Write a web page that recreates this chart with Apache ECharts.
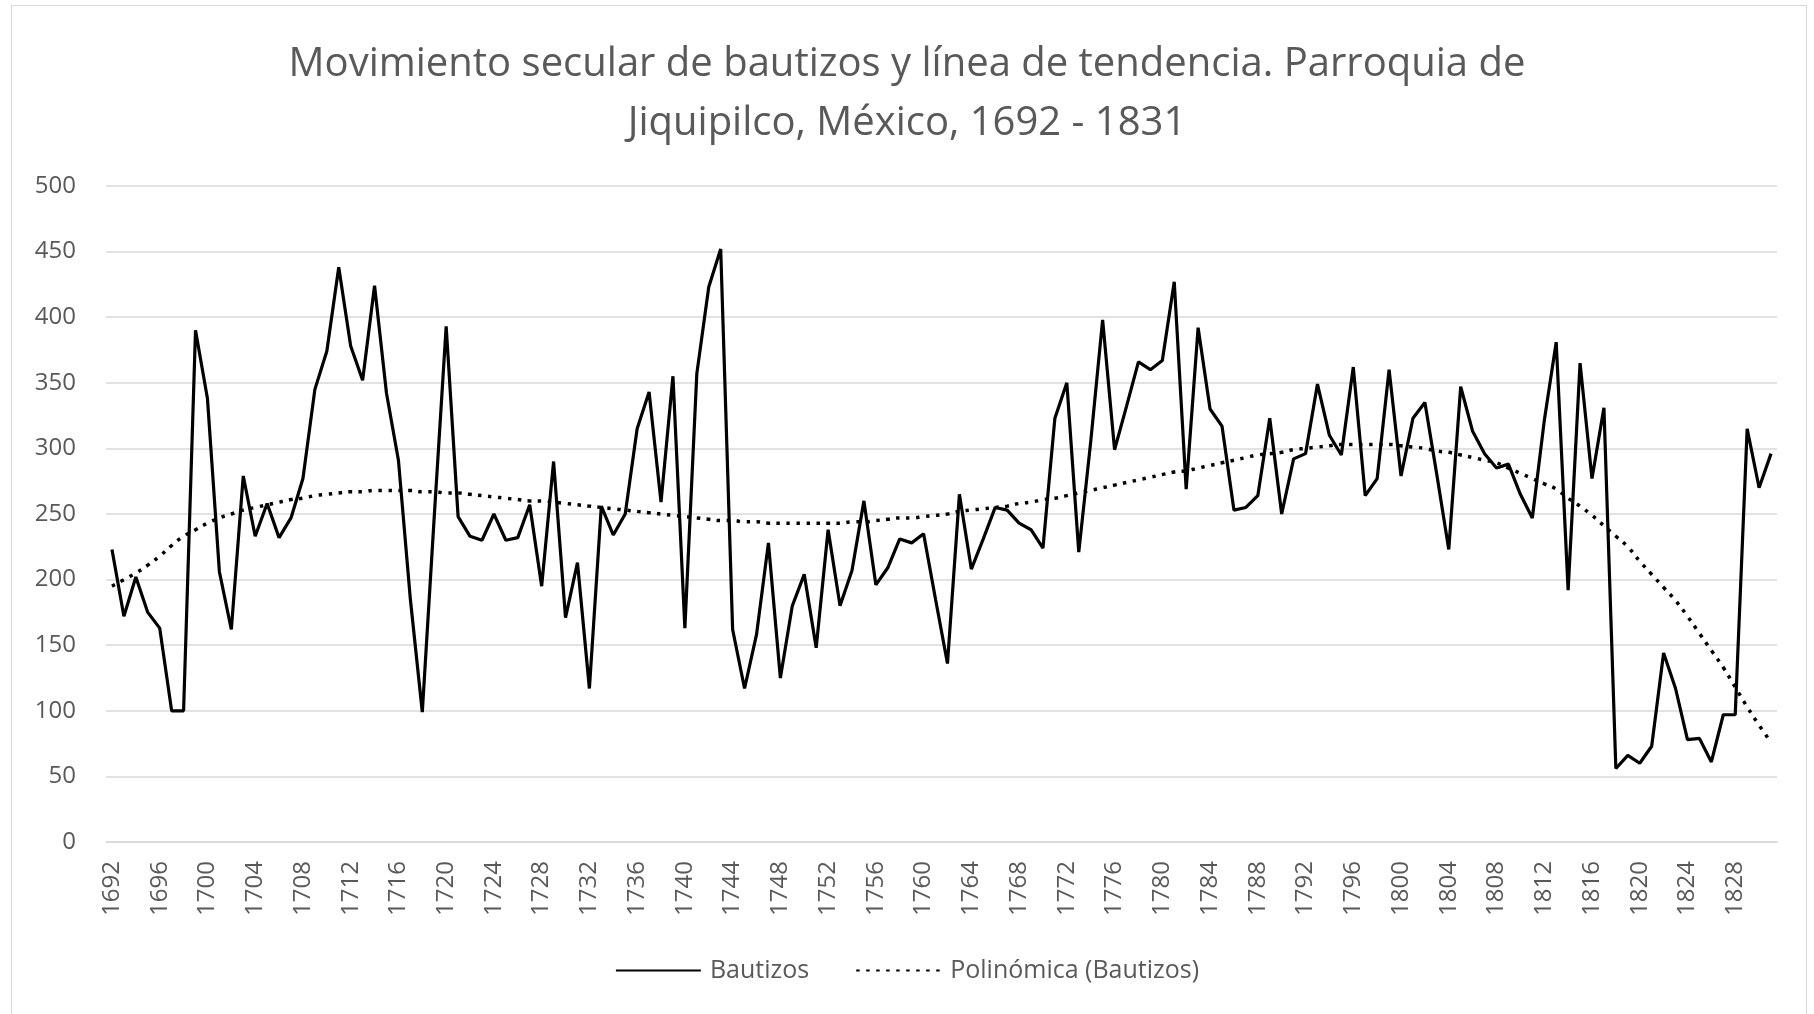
<!DOCTYPE html>
<html>
<head>
<meta charset="utf-8">
<script src="https://cdn.jsdelivr.net/npm/echarts@6/dist/echarts.min.js"></script>
<style>
  html, body { margin: 0; padding: 0; background: #fff; }
  #frame { position: absolute; left: 11px; top: 5px; width: 1796px; height: 1020px; border: 1px solid #d9d9d9; box-sizing: border-box; }
  #chart { position: absolute; left: 0; top: 0; width: 1814px; height: 1014px; }
</style>
</head>
<body>
<div id="frame"></div>
<div id="chart"></div>
<script>
// años 1692 - 1831
var years = [];
for (var y = 1692; y <= 1831; y++) { years.push(String(y)); }

// bautizos por año
var bautizos = [
    223, 172, 202, 175, 163, 100, 100, 390, 338, 206,   // 1692-1701
    162, 279, 233, 258, 232, 247, 277, 345, 374, 438,   // 1702-1711
    378, 352, 424, 342, 291, 185, 99, 248, 393, 248,    // 1712-1721
    233, 230, 250, 230, 232, 257, 195, 290, 171, 213,   // 1722-1731
    117, 256, 234, 250, 315, 343, 259, 355, 163, 357,   // 1732-1741
    423, 452, 162, 117, 158, 228, 125, 180, 204, 148,   // 1742-1751
    238, 180, 207, 260, 196, 209, 231, 228, 235, 185,   // 1752-1761
    136, 265, 208, 231, 255, 253, 243, 238, 224, 323,   // 1762-1771
    350, 221, 305, 398, 299, 332, 366, 360, 367, 427,   // 1772-1781
    269, 392, 330, 317, 253, 255, 264, 323, 250, 292,   // 1782-1791
    296, 349, 310, 295, 362, 264, 277, 360, 279, 323,   // 1792-1801
    335, 280, 223, 347, 313, 296, 285, 288, 265, 247,   // 1802-1811
    321, 381, 192, 365, 277, 331, 56, 66, 60, 73,       // 1812-1821
    144, 117, 78, 79, 61, 97, 97, 315, 270, 296         // 1822-1831
];

// línea de tendencia polinómica
var tendencia = [
    195, 200, 205, 211, 218, 226, 233, 238, 243, 247,
    250, 253, 255, 257, 259, 261, 262, 264, 265, 266,
    267, 267, 268, 268, 268, 268, 267, 267, 266, 266,
    265, 264, 263, 262, 261, 260, 260, 259, 258, 257,
    256, 255, 254, 253, 252, 251, 250, 249, 248, 247,
    246, 245, 245, 244, 244, 243, 243, 243, 243, 243,
    243, 243, 244, 244, 245, 246, 247, 247, 248, 249,
    250, 252, 253, 254, 255, 256, 258, 259, 261, 262,
    264, 266, 268, 270, 272, 274, 276, 278, 280, 282,
    283, 285, 287, 289, 291, 293, 295, 296, 297, 299,
    300, 301, 302, 303, 303, 303, 303, 303, 302, 301,
    300, 298, 297, 295, 293, 291, 289, 285, 281, 277,
    273, 269, 262, 256, 249, 241, 233, 225, 214, 204,
    194, 184, 172, 159, 146, 133, 118, 103, 89, 76
];

var myChart = echarts.init(document.getElementById('chart'));
var option = {
    animation: false,
    textStyle: {fontFamily: 'Open Sans'},
    title: {
        text: 'Movimiento secular de bautizos y línea de tendencia. Parroquia de\nJiquipilco, México, 1692 - 1831',
        left: 'center',
        top: 30,
        textStyle: {
            color: '#595959',
            fontSize: 40,
            fontWeight: 'normal',
            lineHeight: 59
        }
    },
    legend: {
        bottom: 26,
        left: 'center',
        itemWidth: 85,
        itemHeight: 14,
        itemGap: 46,
        itemStyle: {
            color: 'rgba(0,0,0,0)',
            borderColor: 'rgba(0,0,0,0)',
            borderWidth: 0
        },
        textStyle: {
            color: '#595959',
            fontSize: 25,
            padding: [0, 0, 0, 4]
        },
        data: ['Bautizos', 'Polinómica (Bautizos)']
    },
    grid: {
        left: 106,
        right: 37,
        top: 186,
        bottom: 172
    },
    xAxis: {
        type: 'category',
        data: years,
        axisLine: {lineStyle: {color: '#d9d9d9', width: 1.5}},
        axisTick: {show: false},
        axisLabel: {
            color: '#595959',
            fontSize: 24,
            rotate: 90,
            interval: 3,
            margin: 19
        }
    },
    yAxis: {
        type: 'value',
        min: 0,
        max: 500,
        interval: 50,
        axisLine: {show: false},
        axisTick: {show: false},
        axisLabel: {
            color: '#595959',
            fontSize: 24,
            margin: 30
        },
        splitLine: {lineStyle: {color: '#d9d9d9', width: 1.5}}
    },
    series: [
        {
            name: 'Bautizos',
            type: 'line',
            symbol: 'none',
            data: bautizos,
            lineStyle: {color: '#000', width: 3.2},
            itemStyle: {color: '#000'}
        },
        {
            name: 'Polinómica (Bautizos)',
            type: 'line',
            symbol: 'none',
            smooth: true,
            data: tendencia,
            lineStyle: {color: '#000', width: 3.5, type: [3.5, 6.5]},
            itemStyle: {color: '#000'}
        }
    ]
};
myChart.setOption(option);
</script>
</body>
</html>
